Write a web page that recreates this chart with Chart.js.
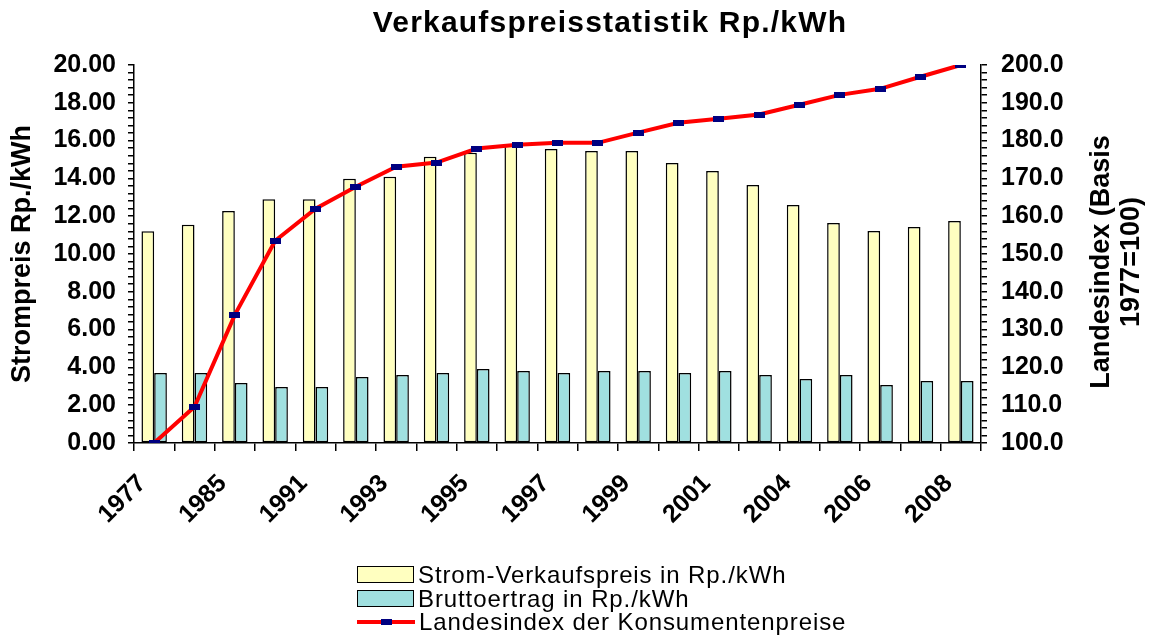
<!DOCTYPE html>
<html>
<head>
<meta charset="utf-8">
<script src="https://cdn.jsdelivr.net/npm/chart.js@4.4.1/dist/chart.umd.min.js"></script>
<style>
  html, body { margin: 0; padding: 0; background: #fff; }
  #wrap { position: relative; width: 1153px; height: 640px; font-family: "Liberation Sans", Arial, sans-serif; color: #000; }
  #chart { position: absolute; left: 0; top: 0; }
  .title { position: absolute; left: 0; top: 4px; width: 1220px; text-align: center; font-size: 30px; font-weight: bold; letter-spacing: 1.2px; line-height: 36px; }
  .ytitle-right { position: absolute; left: 965px; top: 232px; width: 300px; height: 60px; line-height: 30px; text-align: center; font-size: 27px; font-weight: bold; transform: rotate(-90deg); }
  .legend { position: absolute; left: 357px; top: 563px; font-size: 24px; letter-spacing: 0.9px; line-height: 23.5px; }
  .legend div { display: flex; align-items: center; height: 23.5px; }
  .sw { width: 55px; height: 15px; border: 1.5px solid #000; margin-right: 4px; box-sizing: content-box; }
  .ln { position: relative; width: 58px; height: 4px; background: #ff0000; margin-right: 4px; }
  .ln span { position: absolute; left: 24px; top: -1px; width: 11px; height: 6px; background: #000080; }
</style>
</head>
<body>
<div id="wrap">
  <canvas id="chart" width="1153" height="640"></canvas>
  <div class="title">Verkaufspreisstatistik Rp./kWh</div>
  <div class="ytitle-right">Landesindex (Basis<br>1977=100)</div>
  <div class="legend" id="legend"></div>
</div>
<script>
// Jahre (nur jede zweite Kategorie wird beschriftet)
const years = ["1977", "1980", "1985", "1990", "1991", "1992", "1993", "1994", "1995", "1996",
  "1997", "1998", "1999", "2000", "2001", "2003", "2004", "2005", "2006", "2007", "2008"];

// Strom-Verkaufspreis in Rp./kWh
const verkaufspreis = [11.20, 11.55, 12.28, 12.90, 12.90, 13.98, 14.09, 15.15, 15.36, 15.77,
  15.56, 15.45, 15.45, 14.81, 14.39, 13.65, 12.59, 11.64, 11.22, 11.43, 11.75];

// Bruttoertrag in Rp./kWh
const bruttoertrag = [3.70, 3.70, 3.17, 2.96, 2.96, 3.49, 3.60, 3.70, 3.92, 3.81,
  3.70, 3.81, 3.81, 3.70, 3.81, 3.60, 3.39, 3.60, 3.07, 3.28, 3.28];

// Landesindex der Konsumentenpreise (1977 = 100)
const landesindex = [100.0, 109.6, 133.9, 153.5, 162.0, 167.8, 173.1, 174.2, 177.9, 178.9,
  179.4, 179.4, 182.1, 184.7, 185.8, 186.9, 189.5, 192.1, 193.7, 196.9, 200.0];

const FONT = "'Liberation Sans', Arial, sans-serif";
const COLORS = {
  preis: "#ffffc0",
  ertrag: "#a0e0e0",
  index: "#ff0000",
  marker: "#000080",
};

// kleines Rechteck als Punktmarker
const marker = document.createElement("canvas");
marker.width = 11;
marker.height = 6;
const mctx = marker.getContext("2d");
mctx.fillStyle = COLORS.marker;
mctx.fillRect(0, 0, 11, 6);

const isMultiple = (v, step) => Math.abs(v / step - Math.round(v / step)) < 1e-6;

const axisGrid = {
  drawOnChartArea: false,
  color: "#000",
  tickColor: "#000",
  lineWidth: 1.5,
  tickLength: 6,
};

new Chart(document.getElementById("chart"), {
  type: "bar",
  data: {
    labels: years,
    datasets: [
      {
        type: "line",
        label: "Landesindex der Konsumentenpreise",
        data: landesindex,
        yAxisID: "y1",
        borderColor: COLORS.index,
        borderWidth: 4,
        tension: 0,
        pointStyle: marker,
        pointRadius: 5,
        order: 0,
      },
      {
        label: "Strom-Verkaufspreis in Rp./kWh",
        data: verkaufspreis,
        yAxisID: "y",
        backgroundColor: COLORS.preis,
        borderColor: "#000",
        borderWidth: 1.5,
        borderSkipped: false,
        order: 1,
      },
      {
        label: "Bruttoertrag in Rp./kWh",
        data: bruttoertrag,
        yAxisID: "y",
        backgroundColor: COLORS.ertrag,
        borderColor: "#000",
        borderWidth: 1.5,
        borderSkipped: false,
        order: 2,
      },
    ],
  },
  options: {
    responsive: false,
    animation: false,
    categoryPercentage: 0.63,
    barPercentage: 1.0,
    layout: { padding: { top: 65, left: 0, right: 0, bottom: 0 } },
    plugins: {
      legend: { display: false },
      title: { display: false },
      tooltip: { enabled: false },
    },
    scales: {
      x: {
        offset: true,
        grid: { ...axisGrid, offset: true, tickLength: 8 },
        border: { color: "#000", width: 1.5 },
        ticks: {
          autoSkip: false,
          maxRotation: 45,
          minRotation: 45,
          padding: 18,
          labelOffset: -12,
          color: "#000",
          font: { family: FONT, size: 25, weight: "bold" },
          callback: (v, i) => (i % 2 === 0 ? years[i] : ""),
        },
        afterFit: (s) => { s.height = 197; },
      },
      y: {
        position: "left",
        min: 0,
        max: 20,
        grid: axisGrid,
        border: { color: "#000", width: 1.5 },
        ticks: {
          stepSize: 0.4,
          autoSkip: false,
          padding: 12,
          color: "#000",
          font: { family: FONT, size: 25, weight: "bold" },
          callback: (v) => (isMultiple(v, 2) ? v.toFixed(2) : ""),
        },
        title: {
          display: true,
          text: "Strompreis Rp./kWh",
          color: "#000",
          font: { family: FONT, size: 27, weight: "bold" },
          padding: { top: 6, bottom: 0 },
        },
        afterFit: (s) => { s.width = 134; },
      },
      y1: {
        position: "right",
        min: 100,
        max: 200,
        grid: axisGrid,
        border: { color: "#000", width: 1.5 },
        ticks: {
          stepSize: 2,
          autoSkip: false,
          padding: 14,
          color: "#000",
          font: { family: FONT, size: 25, weight: "bold" },
          callback: (v) => (isMultiple(v, 10) ? v.toFixed(1) : ""),
        },
        afterFit: (s) => { s.width = 172; },
      },
    },
  },
});

// Legende (untereinander, wie im Original)
const legend = document.getElementById("legend");
legend.innerHTML = `
  <div><span class="sw" style="background:${COLORS.preis}"></span>Strom-Verkaufspreis in Rp./kWh</div>
  <div><span class="sw" style="background:${COLORS.ertrag}"></span>Bruttoertrag in Rp./kWh</div>
  <div><span class="ln"><span></span></span>Landesindex der Konsumentenpreise</div>`;
</script>
</body>
</html>
